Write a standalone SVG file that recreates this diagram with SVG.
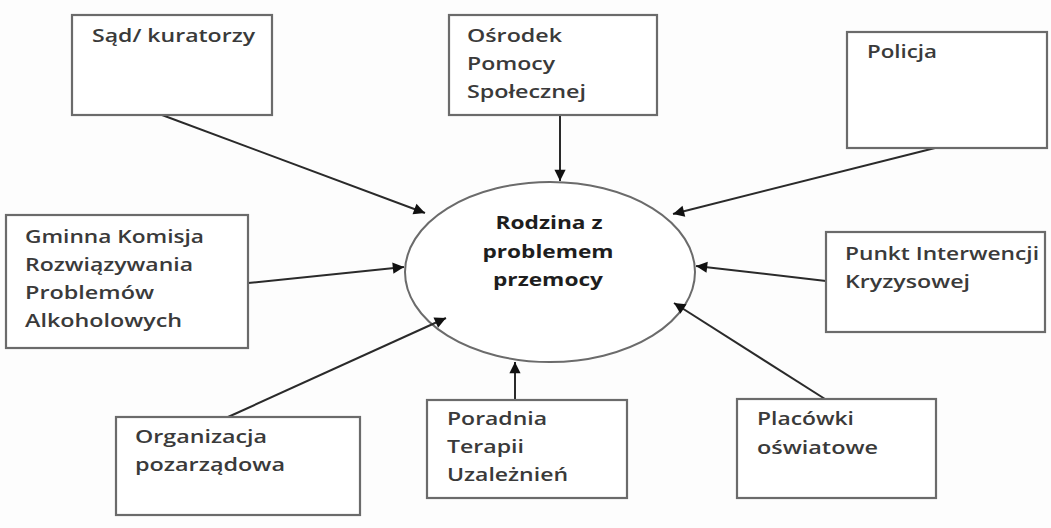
<svg xmlns="http://www.w3.org/2000/svg" width="1051" height="528" viewBox="0 0 1051 528">
<style>
.box{fill:#fff;stroke:#6b6b6b;stroke-width:2.2}
.t{font-family:"Open Sans","Liberation Sans",sans-serif;font-size:18px;fill:#3a3a3a;font-weight:600}
.c{font-family:"Open Sans","Liberation Sans",sans-serif;font-size:18px;fill:#1e1e1e;font-weight:bold;text-anchor:middle}
.ln{stroke:#2a2a2a;stroke-width:2;fill:none;marker-end:url(#ah)}
</style>
<defs>
<marker id="ah" viewBox="0 0 10 10" refX="10" refY="5" markerWidth="7" markerHeight="7" markerUnits="userSpaceOnUse" orient="auto" style="overflow:visible">
<path d="M0,0 L10,5 L0,10 z" fill="#111" transform="scale(1.6) translate(-3.75 -1.9)"/>
</marker>
</defs>
<rect width="1051" height="528" fill="#fdfdfd"/>
<g id="center">
<ellipse cx="550" cy="272" rx="145" ry="90" fill="#fff" stroke="#6b6b6b" stroke-width="2"/>
<text class="c" x="549" y="229" textLength="107" lengthAdjust="spacingAndGlyphs">Rodzina z</text>
<text class="c" x="548" y="258" textLength="131" lengthAdjust="spacingAndGlyphs">problemem</text>
<text class="c" x="548" y="286" textLength="110" lengthAdjust="spacingAndGlyphs">przemocy</text>
</g>
<g id="connectors">
<line class="ln" x1="162" y1="115" x2="425" y2="213"/>
<line class="ln" x1="560" y1="115" x2="560" y2="181"/>
<line class="ln" x1="935" y1="148" x2="673" y2="214"/>
<line class="ln" x1="248" y1="283" x2="404" y2="267"/>
<line class="ln" x1="826" y1="281" x2="696" y2="266"/>
<line class="ln" x1="228" y1="417" x2="446" y2="318"/>
<line class="ln" x1="515" y1="400" x2="515" y2="362"/>
<line class="ln" x1="825" y1="399" x2="674" y2="303"/>
</g>
<g id="sad">
<rect class="box" x="72" y="15" width="200" height="100"/>
<text class="t" x="92" y="42" textLength="163" lengthAdjust="spacingAndGlyphs">Sąd/ kuratorzy</text>
</g>
<g id="ops">
<rect class="box" x="449" y="15" width="208" height="100"/>
<text class="t" x="467" y="42" textLength="95" lengthAdjust="spacingAndGlyphs">Ośrodek</text>
<text class="t" x="467" y="70" textLength="88" lengthAdjust="spacingAndGlyphs">Pomocy</text>
<text class="t" x="467" y="98" textLength="119" lengthAdjust="spacingAndGlyphs">Społecznej</text>
</g>
<g id="policja">
<rect class="box" x="847" y="32" width="200" height="116"/>
<text class="t" x="867" y="58" textLength="70" lengthAdjust="spacingAndGlyphs">Policja</text>
</g>
<g id="gkrpa">
<rect class="box" x="6" y="215" width="242" height="133"/>
<text class="t" x="25" y="243" textLength="179" lengthAdjust="spacingAndGlyphs">Gminna Komisja</text>
<text class="t" x="25" y="271" textLength="168" lengthAdjust="spacingAndGlyphs">Rozwiązywania</text>
<text class="t" x="25" y="299" textLength="129" lengthAdjust="spacingAndGlyphs">Problemów</text>
<text class="t" x="25" y="327" textLength="157" lengthAdjust="spacingAndGlyphs">Alkoholowych</text>
</g>
<g id="pik">
<rect class="box" x="826" y="232" width="219" height="100"/>
<text class="t" x="845" y="260" textLength="194" lengthAdjust="spacingAndGlyphs">Punkt Interwencji</text>
<text class="t" x="845" y="288" textLength="125" lengthAdjust="spacingAndGlyphs">Kryzysowej</text>
</g>
<g id="ngo">
<rect class="box" x="116" y="417" width="244" height="98"/>
<text class="t" x="135" y="443" textLength="132" lengthAdjust="spacingAndGlyphs">Organizacja</text>
<text class="t" x="135" y="471" textLength="150" lengthAdjust="spacingAndGlyphs">pozarządowa</text>
</g>
<g id="ptu">
<rect class="box" x="427" y="400" width="200" height="98"/>
<text class="t" x="447" y="425" textLength="100" lengthAdjust="spacingAndGlyphs">Poradnia</text>
<text class="t" x="447" y="453" textLength="77" lengthAdjust="spacingAndGlyphs">Terapii</text>
<text class="t" x="447" y="481" textLength="121" lengthAdjust="spacingAndGlyphs">Uzależnień</text>
</g>
<g id="placowki">
<rect class="box" x="737" y="399" width="199" height="99"/>
<text class="t" x="757" y="425" textLength="97" lengthAdjust="spacingAndGlyphs">Placówki</text>
<text class="t" x="757" y="454" textLength="121" lengthAdjust="spacingAndGlyphs">oświatowe</text>
</g>
</svg>
